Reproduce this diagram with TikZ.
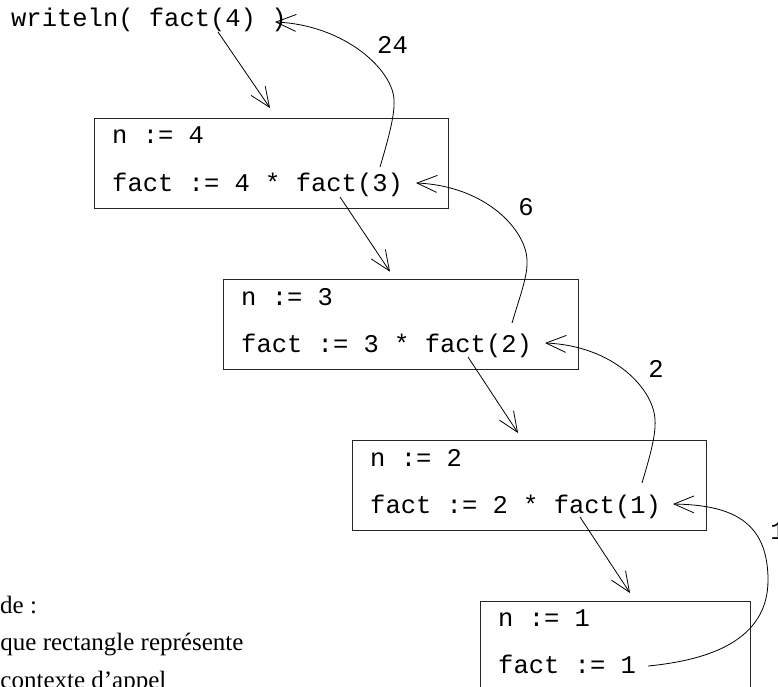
\documentclass[tikz,border=0pt]{standalone}
\usepackage{fontspec}
\setmainfont{Liberation Serif}
\setmonofont{Liberation Mono}
\usetikzlibrary{arrows.meta}
\begin{document}
\begin{tikzpicture}[x=1pt,y=-1pt,
  code/.style={font=\ttfamily\fontsize{25.5}{30}\selectfont, inner sep=0pt, anchor=base west},
  lbl/.style={font=\ttfamily\fontsize{25.5}{30}\selectfont, inner sep=0pt, anchor=base},
  legend/.style={font=\rmfamily\fontsize{25}{30}\selectfont, inner sep=0pt, anchor=base west},
  frame/.style={draw=black!85, line width=1pt, inner sep=0pt, anchor=north west},
  call/.style={draw, line width=0.8pt, -{Straight Barb[length=20pt,width=17pt]}}]
\useasboundingbox (0,0) rectangle (778,687);
\clip (0,0) rectangle (778,687);

% frames
\node[frame, minimum width=354pt, minimum height=90pt] (b1) at (94,118) {};
\node[frame, minimum width=354.5pt, minimum height=90pt] (b2) at (223,279) {};
\node[frame, minimum width=354pt, minimum height=89.5pt] (b3) at (352,440) {};
\node[frame, minimum width=270pt, minimum height=120pt] (b4) at (480,600.5) {};

% code text
\node[code] (w) at (11,27) {writeln( fact(4) )};
\node[code] (n4) at ([shift={(18,26)}]b1.north west) {n := 4};
\node[code] (f4) at ([shift={(18,73.5)}]b1.north west) {fact := 4 * fact(3)};
\node[code] (n3) at ([shift={(18,26)}]b2.north west) {n := 3};
\node[code] (f3) at ([shift={(18,73.5)}]b2.north west) {fact := 3 * fact(2)};
\node[code] (n2) at ([shift={(18,26)}]b3.north west) {n := 2};
\node[code] (f2) at ([shift={(18,73)}]b3.north west) {fact := 2 * fact(1)};
\node[code] (n1) at ([shift={(18,26)}]b4.north west) {n := 1};
\node[code] (f1) at ([shift={(18,73)}]b4.north west) {fact := 1};

% return labels
\node[lbl] (l24) at (392.5,54) {24};
\node[lbl] (l6) at (526,215) {6};
\node[lbl] (l2) at (656,377) {2};
\node[lbl] (l1) at (778,539) {1};

% legend
\node[legend] (lg1) at (-62.5,613.3) {Légende :};
\node[legend] (lg2) at (-40,650.7) {Chaque rectangle représente};
\node[legend] (lg3) at (-31,688) {un contexte d’appel};

% call arrows
\coordinate (c0s) at (218,32);  \coordinate (c0e) at (270,108);
\coordinate (c1s) at (340,197); \coordinate (c1e) at (390,271.7);
\coordinate (c2s) at (468,357); \coordinate (c2e) at (518,433);
\coordinate (c3s) at (580,517); \coordinate (c3e) at (630,593);
\draw[call] (c0s) -- (c0e);
\draw[call] (c1s) -- (c1e);
\draw[call] (c2s) -- (c2e);
\draw[call] (c3s) -- (c3e);

% return arrows
\coordinate (r1s) at (380,167); \coordinate (r1m) at (394,100); \coordinate (r1t) at (275,22);
\coordinate (r2s) at (512,323); \coordinate (r2m) at (527,260); \coordinate (r2t) at (416,183);
\coordinate (r3s) at (642,483); \coordinate (r3m) at (655,420); \coordinate (r3t) at (545,343);
\coordinate (r4s) at (648,666); \coordinate (r4m) at (768,580); \coordinate (r4t) at (673,504);
\draw[call] (r1s) .. controls (388,140) and (395,115) .. (r1m) .. controls (393,70) and (345,25) .. (r1t);
\draw[call] (r2s) .. controls (520,296) and (528,275) .. (r2m) .. controls (526,230) and (486,186) .. (r2t);
\draw[call] (r3s) .. controls (650,456) and (656,435) .. (r3m) .. controls (654,390) and (615,346) .. (r3t);
\draw[call] (r4s) .. controls (710,660) and (768,640) .. (r4m) .. controls (768,520) and (730,505) .. (r4t);
\end{tikzpicture}
\end{document}
